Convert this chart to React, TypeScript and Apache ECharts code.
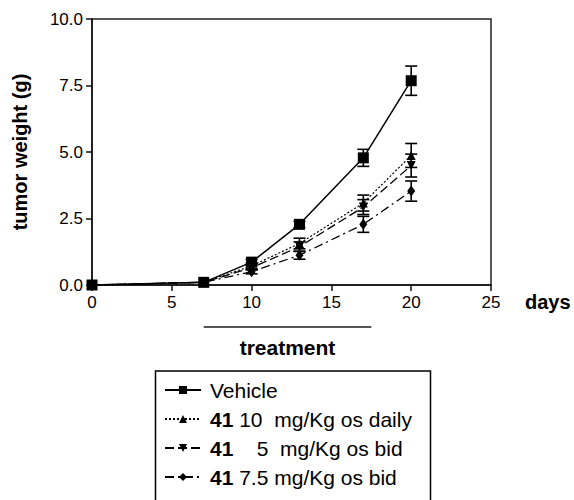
import React, { useEffect, useRef } from "react";
import * as echarts from "echarts";

const days = [0, 7, 10, 13, 17, 20];
const seriesNames = [
  "Vehicle",
  "41 10  mg/Kg os daily",
  "41    5  mg/Kg os bid",
  "41 7.5 mg/Kg os bid",
];
const vehicle = [0, 0.1, 0.86, 2.28, 4.78, 7.68];
const vehicleErr = [0, 0.03, 0.1, 0.12, 0.32, 0.55];
const daily10 = [0, 0.1, 0.72, 1.56, 3.08, 4.87];
const daily10Err = [0, 0, 0.1, 0.2, 0.3, 0.45];
const bid5 = [0, 0.1, 0.65, 1.44, 2.93, 4.49];
const bid5Err = [0, 0, 0.08, 0.18, 0.28, 0.43];
const bid75 = [0, 0.1, 0.5, 1.12, 2.28, 3.53];
const bid75Err = [0, 0, 0.08, 0.15, 0.3, 0.38];
const xTicks = [0, 5, 10, 15, 20, 25];
const yTicks = [0, 2.5, 5, 7.5, 10];
const treatmentStart = 7;
const treatmentEnd = 17.5;

const FONT = "'Liberation Sans', Arial, sans-serif";

export default function App() {
  const ref = useRef<HTMLDivElement>(null);
  useEffect(() => {
    if (!ref.current) return;
    document.body.style.margin = "0";
    const chart = echarts.init(ref.current, null, { renderer: "svg" });

    const groups = [
      { name: seriesNames[0], vals: vehicle, err: vehicleErr, symbol: "rect", size: 11, rotate: 0, line: { type: "solid", width: 1.5 } },
      { name: seriesNames[1], vals: daily10, err: daily10Err, symbol: "triangle", size: 9, rotate: 0, line: { type: [2, 2], width: 1.2 } },
      { name: seriesNames[2], vals: bid5, err: bid5Err, symbol: "triangle", size: 9, rotate: 180, line: { type: [9, 4], width: 1.3 } },
      { name: seriesNames[3], vals: bid75, err: bid75Err, symbol: "diamond", size: [8, 11], rotate: 0, line: { type: [9, 4, 2, 4], width: 1.3 } },
    ];

    const lineSeries = groups.map((g) => ({
      type: "line",
      name: g.name,
      data: days.map((d, i) => [d, g.vals[i]]),
      symbol: g.symbol,
      symbolSize: g.size,
      symbolRotate: g.rotate,
      showAllSymbol: true,
      color: "#000",
      itemStyle: { color: "#000" },
      lineStyle: { color: "#000", type: g.line.type, width: g.line.width },
      z: 3,
    }));

    const errSeries = groups.map((g) => ({
      type: "custom",
      name: g.name + " err",
      data: days
        .map((d, i) => [d, g.vals[i] - g.err[i], g.vals[i] + g.err[i], g.err[i]])
        .filter((r) => r[3] > 0.05),
      renderItem: (params: any, api: any) => {
        const x = api.value(0);
        const lo = api.coord([x, api.value(1)]);
        const hi = api.coord([x, api.value(2)]);
        const w = 6;
        const st = { stroke: "#000", lineWidth: 1.6 };
        return {
          type: "group",
          children: [
            { type: "line", shape: { x1: hi[0], y1: hi[1], x2: lo[0], y2: lo[1] }, style: st },
            { type: "line", shape: { x1: hi[0] - w, y1: hi[1], x2: hi[0] + w, y2: hi[1] }, style: st },
            { type: "line", shape: { x1: lo[0] - w, y1: lo[1], x2: lo[0] + w, y2: lo[1] }, style: st },
          ],
        };
      },
      z: 2,
    }));

    chart.setOption({
      animation: false,
      textStyle: { fontFamily: FONT },
      grid: {
        left: 92,
        right: 83,
        top: 19,
        bottom: 215,
        show: true,
        borderColor: "#222",
        borderWidth: 1.5,
        containLabel: false,
      },
      legend: {
        data: seriesNames,
        orient: "vertical",
        left: 155,
        top: 371,
        padding: [8, 13, 4, 9],
        itemWidth: 36,
        itemHeight: 10,
        itemGap: 7,
        borderWidth: 0,
        selectedMode: false,
        formatter: (name: string) =>
          name.startsWith("41") ? "{b|41}{n|" + name.slice(2) + "}" : "{n|" + name + "}",
        textStyle: {
          color: "#000",
          fontFamily: FONT,
          fontSize: 21,
          lineHeight: 22,
          padding: [0, 0, 0, 4],
          rich: {
            b: { fontWeight: "bold", fontSize: 21, fontFamily: FONT, color: "#000" },
            n: { fontSize: 21, fontFamily: FONT, color: "#000" },
          },
        },
      },
      xAxis: {
        type: "value",
        min: xTicks[0],
        max: xTicks[xTicks.length - 1],
        interval: 5,
        axisLine: { lineStyle: { color: "#111", width: 1.5 } },
        axisTick: { length: 6, lineStyle: { color: "#111", width: 1.5 } },
        axisLabel: { color: "#000", fontSize: 17, fontFamily: FONT, margin: 9 },
        splitLine: { show: false },
      },
      yAxis: {
        type: "value",
        min: yTicks[0],
        max: yTicks[yTicks.length - 1],
        interval: 2.5,
        name: "tumor weight (g)",
        nameLocation: "middle",
        nameRotate: 90,
        nameGap: 62,
        nameTextStyle: { color: "#000", fontSize: 20, fontWeight: "bold", fontFamily: FONT },
        axisLine: { show: true, lineStyle: { color: "#111", width: 1.5 } },
        axisTick: { show: true, length: 6, lineStyle: { color: "#111", width: 1.5 } },
        axisLabel: {
          color: "#000",
          fontSize: 17,
          fontFamily: FONT,
          margin: 9,
          formatter: (v: number) => v.toFixed(1),
        },
        splitLine: { show: false },
      },
      series: [...errSeries, ...lineSeries],
    });

    const xs = chart.convertToPixel({ xAxisIndex: 0 }, treatmentStart) as number;
    const xe = chart.convertToPixel({ xAxisIndex: 0 }, treatmentEnd) as number;
    const xEndAxis = chart.convertToPixel({ xAxisIndex: 0 }, xTicks[xTicks.length - 1]) as number;
    chart.setOption({
      graphic: [
        {
          type: "rect",
          shape: { x: 155.5, y: 371, width: 275, height: 200 },
          style: { stroke: "#000", lineWidth: 1.5, fill: "none" },
          silent: true,
        },
        {
          type: "line",
          shape: { x1: xs, y1: 327, x2: xe, y2: 327 },
          style: { stroke: "#555", lineWidth: 2 },
        },
        {
          type: "text",
          x: (xs + xe) / 2,
          y: 347,
          style: {
            text: "treatment",
            fill: "#000",
            font: "bold 21px " + FONT,
            textAlign: "center",
            textVerticalAlign: "middle",
          },
        },
        {
          type: "text",
          x: xEndAxis + 34,
          y: 302,
          style: {
            text: "days",
            fill: "#000",
            font: "bold 20px " + FONT,
            textAlign: "left",
            textVerticalAlign: "middle",
          },
        },
      ],
    });

    return () => chart.dispose();
  }, []);
  return <div ref={ref} style={{ width: 574, height: 500 }} />;
}
